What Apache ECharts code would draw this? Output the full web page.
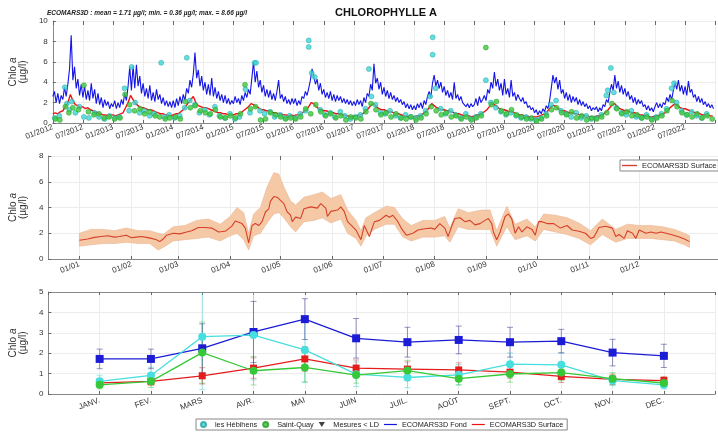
<!DOCTYPE html>
<html lang="fr">
<head>
<meta charset="UTF-8" />
<title>Chlorophylle a</title>
<script src="https://cdn.jsdelivr.net/npm/echarts@6/dist/echarts.min.js"></script>
<style>
  html, body { margin: 0; padding: 0; background: #fff; }
  #chart { width: 718px; height: 432px; }
</style>
</head>
<body>
<div id="chart"></div>
<script>
// ---- top panel : time series 2012-2022 (x = months since 01/2012) ----
const topTickLabels = ['01/2012','07/2012','01/2013','07/2013','01/2014','07/2014','01/2015','07/2015',
  '01/2016','07/2016','01/2017','07/2017','01/2018','07/2018','01/2019','07/2019','01/2020','07/2020',
  '01/2021','07/2021','01/2022','07/2022'];

// ECOMARS3D Fond, 3 values per month (1st, 11th, 21st)
const fondValues = [
  2.6,3.1,2.0, 2.9,1.9,2.7, 2.3,3.5,2.6, 3.8,5.3,8.6, 4.2,5.5,3.4, 4.3,2.7,3.8, 2.5,3.6,2.3, 3.2,2.2,3.9, 2.4,3.3,1.9, 2.9,1.8,2.5, 1.5,2.3,1.7, 2.1,1.4,1.9,
  1.6,2.2,1.4, 2.0,1.5,2.3, 1.8,2.9,2.2, 3.6,5.5,3.2, 5.6,3.4,5.7, 3.6,4.6,2.9, 3.9,2.6,3.4, 2.4,3.7,2.2, 3.0,2.1,3.3, 2.3,2.8,1.9, 2.5,1.7,2.2, 1.6,2.1,1.5,
  2.2,1.5,2.4, 1.7,2.6,1.9, 2.8,2.2,3.4, 2.9,4.2,3.5, 4.8,6.9,4.4, 5.2,3.6,4.6, 3.2,4.0,2.8, 3.8,2.7,4.4, 2.6,3.5,2.4, 3.1,2.2,2.8, 2.0,2.7,1.9, 2.4,1.8,2.2,
  1.9,2.6,2.0, 2.4,1.8,2.7, 2.2,3.0,2.5, 3.3,2.8,4.4, 6.0,4.0,5.1, 3.5,4.2,3.0, 3.7,2.6,3.3, 2.5,3.2,2.3, 2.9,2.2,3.1, 4.2,2.4,2.8, 2.1,2.6,1.9, 2.3,1.8,2.4,
  1.9,2.4,1.7, 2.2,1.8,2.6, 2.4,3.1,2.7, 3.4,4.2,5.3, 4.6,3.8,4.3, 3.2,3.9,2.8, 3.3,2.5,3.0, 2.4,3.1,2.2, 2.8,2.1,2.7, 2.2,2.6,2.0, 2.4,1.9,2.3, 1.8,2.2,1.7,
  2.1,1.7,2.3, 1.8,2.2,1.6, 2.5,2.0,2.9, 2.6,3.8,3.2, 5.8,3.9,4.4, 3.3,4.0,2.8, 3.5,2.6,3.2, 2.4,3.0,2.3, 2.7,2.1,2.5, 2.0,2.3,1.8, 2.1,1.5,1.9, 1.4,1.8,1.3,
  1.7,1.3,1.9, 1.5,2.0,1.4, 2.2,1.8,2.6, 3.1,2.5,3.9, 4.7,3.6,4.2, 3.4,4.0,3.0, 3.6,2.7,3.2, 2.5,3.0,2.3, 4.0,2.4,2.8, 2.2,2.6,2.0, 2.1,1.6,1.9, 1.5,1.9,1.6,
  1.8,2.4,1.7, 2.6,2.0,2.3, 2.7,2.2,3.3, 2.9,4.0,3.4, 5.0,3.6,4.3, 3.2,3.9,2.7, 4.3,2.8,3.4, 2.5,4.2,2.6, 3.0,2.2,2.8, 2.4,2.1,2.5, 1.9,2.1,1.5, 1.7,1.3,1.5,
  1.0,1.3,0.8, 1.2,0.9,1.4, 1.1,1.7,1.4, 2.2,3.4,4.7, 3.9,4.5,3.3, 4.2,2.9,3.3, 2.4,3.0,2.2, 2.8,2.0,2.6, 2.1,2.5,1.8, 2.3,1.7,2.1, 1.6,1.9,1.4, 1.7,1.2,1.5,
  1.3,1.6,1.1, 1.5,1.2,1.8, 1.6,2.3,2.0, 3.0,3.8,3.2, 4.7,3.4,4.1, 3.0,3.7,2.8, 3.4,2.6,3.1, 2.3,2.7,2.0, 2.5,1.8,2.3, 1.9,2.2,1.6, 1.8,1.3,1.7, 1.2,1.5,1.1,
  1.6,2.0,1.5, 1.9,1.5,2.0, 1.8,2.5,2.1, 2.8,2.3,3.2, 4.0,3.3,4.2, 3.1,3.7,2.8, 3.6,2.7,4.1, 3.0,3.3,2.5, 2.8,2.1,2.6, 2.0,2.4,1.8, 2.1,1.6,1.9, 1.5,1.8,1.4
];

// ECOMARS3D Surface, 2 values per month
const surfaceValues = [
  0.9,1.0, 0.9,1.1, 1.2,1.6, 2.0,2.8, 2.2,1.8, 1.7,1.5, 1.6,1.4, 1.5,1.3, 1.2,1.1, 1.0,0.9, 0.8,0.8, 0.7,0.8,
  0.8,0.7, 0.8,0.9, 1.0,1.5, 2.0,2.7, 2.3,1.9, 1.7,1.5, 1.5,1.4, 1.3,1.3, 1.2,1.1, 1.0,0.9, 0.9,0.8, 0.8,0.7,
  0.8,0.9, 0.9,1.1, 1.3,1.6, 2.0,2.3, 2.6,2.0, 1.7,1.6, 1.5,1.5, 1.4,1.3, 1.2,1.1, 1.0,1.0, 0.9,0.9, 0.8,0.8,
  0.8,0.9, 0.9,1.0, 1.2,1.4, 1.6,1.9, 1.8,1.6, 1.5,1.3, 1.3,1.2, 1.2,1.1, 1.0,1.0, 0.9,0.9, 0.8,0.8, 0.7,0.8,
  0.7,0.8, 0.8,0.9, 1.1,1.3, 1.6,2.0, 1.9,1.6, 1.4,1.3, 1.2,1.2, 1.1,1.0, 1.0,0.9, 0.9,0.8, 0.8,0.7, 0.7,0.6,
  0.7,0.7, 0.8,0.8, 1.0,1.2, 1.5,1.8, 1.9,1.6, 1.4,1.3, 1.3,1.2, 1.1,1.1, 1.0,0.9, 0.9,0.8, 0.7,0.7, 0.6,0.6,
  0.6,0.7, 0.7,0.8, 1.0,1.2, 1.5,1.9, 1.7,1.5, 1.4,1.3, 1.3,1.2, 1.2,1.1, 1.0,0.9, 0.9,0.8, 0.7,0.7, 0.7,0.6,
  0.7,0.8, 0.8,1.0, 1.1,1.3, 1.6,1.9, 1.8,1.6, 1.4,1.3, 1.3,1.2, 1.1,1.1, 1.0,0.9, 0.8,0.8, 0.7,0.7, 0.6,0.6,
  0.6,0.6, 0.7,0.8, 0.9,1.1, 1.4,1.7, 1.7,1.5, 1.3,1.2, 1.2,1.1, 1.0,1.0, 0.9,0.9, 0.8,0.8, 0.7,0.7, 0.6,0.6,
  0.6,0.7, 0.7,0.8, 1.0,1.2, 1.5,1.8, 1.9,1.6, 1.4,1.3, 1.2,1.2, 1.1,1.0, 1.0,0.9, 0.8,0.8, 0.7,0.7, 0.6,0.6,
  0.7,0.7, 0.8,0.9, 1.0,1.2, 1.5,1.7, 1.9,1.7, 1.5,1.4, 1.4,1.3, 1.2,1.1, 1.0,1.0, 0.9,0.8, 0.8,0.7, 0.7,0.7
];

// field samples [month, µg/l]
const hebihens = [
  [0.4,0.5],[1.3,0.7],[2.4,3.5],[2.8,1.9],[3.3,1.3],[3.8,2.1],[4.5,1.0],[5.3,1.6],[6.2,0.6],[7.2,0.5],[8.3,1.0],[9.2,0.6],[10.3,0.4],[11.3,0.7],
  [12.4,0.5],[13.3,0.6],[14.3,3.4],[15.2,1.2],[15.7,5.5],[16.4,2.0],[17.3,1.0],[18.2,1.2],[19.3,0.7],[20.2,0.9],[21.6,5.9],[22.3,0.6],[23.2,0.8],
  [24.3,0.5],[25.3,0.7],[26.3,1.5],[26.7,6.4],[27.3,2.2],[28.3,1.8],[29.2,1.0],[30.3,1.3],[31.2,0.8],[32.3,1.6],[33.2,0.7],[34.3,0.5],[35.3,0.9],
  [36.3,0.4],[37.2,0.6],[38.4,3.3],[39.3,1.0],[40.2,5.9],[40.5,5.9],[41.3,1.2],[42.2,0.9],[43.3,1.1],[44.2,0.6],[45.3,0.8],[46.3,0.5],[47.2,0.7],
  [48.3,0.5],[49.3,0.9],[50.4,1.2],[51.0,8.1],[51.0,7.45],[51.6,4.9],[52.2,4.5],[53.3,1.3],[54.2,0.8],[55.3,1.0],[56.2,0.6],[57.3,1.1],[58.2,0.7],[59.3,0.4],
  [60.3,0.6],[61.3,0.8],[62.3,1.4],[63.0,5.3],[63.5,2.6],[64.3,1.8],[65.3,1.0],[66.3,0.9],[67.2,1.2],[68.3,0.7],[69.3,0.5],[70.3,0.8],[71.3,0.6],
  [72.3,0.5],[73.3,0.7],[74.3,1.2],[75.2,2.6],[75.7,8.4],[75.7,6.7],[76.3,3.4],[77.3,1.4],[78.3,0.9],[79.3,1.2],[80.3,0.8],[81.3,0.5],[82.3,0.9],[83.3,0.4],
  [84.3,0.6],[85.3,0.9],[86.3,4.2],[87.3,2.0],[88.3,1.5],[89.3,1.1],[90.3,0.8],[91.3,1.0],[92.3,0.7],[93.3,0.5],[94.3,0.6],[95.3,0.4],
  [96.3,0.3],[97.3,0.5],[98.3,0.9],[99.3,1.8],[100.3,2.2],[101.3,1.2],[102.3,0.9],[103.3,0.6],[104.3,1.0],[105.3,0.5],[106.3,0.7],[107.3,0.4],
  [108.3,0.5],[109.3,0.8],[110.3,2.7],[110.6,3.2],[111.2,5.4],[111.8,3.0],[112.3,1.5],[113.3,1.0],[114.3,0.8],[115.3,1.2],[116.3,0.6],[117.3,0.5],[118.3,0.8],[119.3,0.4],
  [120.3,0.6],[121.3,0.9],[122.3,1.4],[123.3,3.4],[123.8,3.9],[124.3,2.0],[125.3,1.2],[126.3,0.8],[127.3,1.1],[128.3,0.7],[129.3,0.5],[130.3,0.9]
];
const saintQuay = [
  [0.5,0.4],[1.4,0.3],[2.5,1.6],[3.2,1.0],[4.0,1.5],[5.1,1.3],[6.2,3.7],[7.1,1.1],[8.2,0.8],[9.2,0.9],[10.2,0.5],[11.2,0.6],
  [12.3,0.4],[13.4,0.5],[14.4,2.8],[15.3,1.8],[16.3,1.2],[17.4,1.4],[18.3,0.9],[19.3,1.1],[20.4,0.7],[21.3,0.6],[22.4,0.4],[23.3,0.5],
  [24.4,0.6],[25.4,0.4],[26.4,2.1],[27.4,1.5],[28.4,1.7],[29.4,1.2],[30.4,1.0],[31.4,0.9],[32.4,1.3],[33.4,0.6],[34.4,0.5],[35.4,0.7],
  [36.4,0.5],[37.4,0.9],[38.3,3.75],[39.4,1.4],[40.4,1.6],[41.4,0.3],[42.4,0.4],[43.4,1.0],[44.4,0.8],[45.4,0.6],[46.4,0.4],[47.4,0.5],
  [48.4,0.4],[49.4,0.6],[50.4,1.4],[51.4,0.9],[52.4,1.8],[53.4,1.1],[54.4,0.7],[55.4,0.9],[56.4,0.5],[57.4,0.7],[58.4,0.3],[59.4,0.6],
  [60.4,0.5],[61.4,0.4],[62.4,1.1],[63.4,1.9],[64.4,1.3],[65.4,0.8],[66.4,1.0],[67.4,0.6],[68.4,0.9],[69.4,0.5],[70.4,0.4],[71.4,0.6],
  [72.4,0.3],[73.4,0.5],[74.4,0.9],[75.4,1.6],[76.4,1.2],[77.4,0.8],[78.4,1.0],[79.4,0.6],[80.4,0.7],[81.4,0.4],[82.4,0.6],[83.4,0.3],
  [84.4,0.5],[85.4,0.7],[86.3,7.4],[87.4,1.8],[88.4,2.1],[89.4,1.2],[90.4,0.9],[91.4,1.3],[92.4,0.8],[93.4,0.6],[94.4,0.4],[95.4,0.5],
  [96.4,0.2],[97.4,0.4],[98.4,0.7],[99.4,1.3],[100.4,1.5],[101.4,1.0],[102.4,0.8],[103.4,1.1],[104.4,0.5],[105.4,0.7],[106.4,0.3],[107.4,0.5],
  [108.4,0.4],[109.4,0.6],[110.4,1.0],[111.4,1.9],[112.4,1.4],[113.4,0.9],[114.4,1.1],[115.4,0.7],[116.4,0.8],[117.4,0.5],[118.4,0.6],[119.4,0.3],
  [120.4,0.5],[121.4,0.7],[122.4,1.2],[123.4,2.2],[124.4,1.6],[125.4,1.0],[126.4,0.8],[127.4,0.6],[128.4,0.9],[129.4,0.5],[130.4,0.7],[131.4,0.4]
];
const belowLD = [];

// ---- middle panel : daily climatology (x = day of year) ----
const monthStarts = [0,31,59,90,120,151,181,212,243,273,304,334];
const climTickLabels = ['01/01','01/02','01/03','01/04','01/05','01/06','01/07','01/08','01/09','01/10','01/11','01/12'];
const climDays = [0,5,9,13,17,21,24,28,31,34,37,40,43,46,48,50,52,56,60,64,67,71,75,79,83,87,91,93,95,97,99,101,103,105,107,109,
  111,113,114,116,118,120,122,124,126,127,129,132,134,138,142,144,147,148,150,154,156,158,160,162,165,168,170,173,176,179,183,185,
  187,190,192,195,199,202,206,210,212,215,218,220,222,224,227,230,233,236,239,242,244,246,247,249,251,254,256,258,260,262,264,267,
  270,272,274,276,279,283,287,291,294,298,302,305,307,310,314,318,320,322,325,327,330,332,334,338,341,344,347,350,353,357,361,364];
const climMean = [1.45,1.55,1.68,1.75,1.8,1.7,1.75,1.85,1.65,1.7,1.75,1.68,1.6,1.5,1.35,1.55,1.85,2.0,1.95,2.1,2.2,2.45,2.45,2.4,2.1,
  2.15,2.55,2.95,2.85,2.75,2.4,1.25,2.6,2.75,2.6,2.9,3.65,3.9,4.5,4.85,4.8,4.55,4.3,3.65,3.4,2.9,3.25,3.15,3.9,4.05,3.95,4.3,3.95,
  3.3,3.7,3.8,4.05,3.7,2.9,2.65,2.25,1.5,2.6,1.75,2.9,3.0,3.4,3.25,3.4,2.9,2.4,1.85,2.0,2.25,2.35,2.4,2.3,2.75,2.4,1.75,2.5,3.15,
  3.2,2.9,3.0,2.65,2.75,3.0,3.15,2.75,2.1,1.5,2.1,3.3,3.5,3.1,2.0,2.5,2.1,2.5,2.3,1.85,2.9,2.9,2.75,2.75,2.4,2.6,2.25,2.15,2.0,
  1.6,1.7,2.45,2.55,2.4,1.75,1.9,1.6,2.2,2.0,1.6,2.25,2.0,2.1,2.0,2.1,2.0,1.9,1.75,1.55,1.35];
const bandDays = [0,7,14,21,28,35,42,47,50,56,63,70,77,84,90,94,98,101,104,108,112,116,119,122,126,129,134,140,145,150,156,160,
  165,168,171,176,183,188,193,198,205,212,218,221,226,232,240,245,249,255,260,267,272,277,284,291,298,305,312,320,327,334,341,348,355,361,364];
const bandLow = [1.0,1.1,1.2,1.2,1.3,1.2,1.2,0.7,0.9,1.4,1.5,1.6,1.7,1.4,1.8,2.0,1.5,0.7,1.8,2.0,2.8,3.5,3.6,3.2,2.5,2.1,2.9,3.0,
  3.2,2.8,3.1,2.0,1.6,1.0,1.8,2.3,2.7,2.7,1.7,1.4,1.7,1.7,1.8,1.3,2.5,2.3,2.3,2.3,1.0,2.5,1.5,1.8,1.4,2.3,2.1,1.9,1.6,1.1,1.9,1.3,
  1.6,1.6,1.6,1.5,1.4,1.1,0.9];
const bandHigh = [2.0,2.3,2.3,2.2,2.4,2.2,2.2,2.0,1.9,2.5,2.6,3.0,3.1,2.7,3.3,4.0,3.6,2.0,3.5,4.0,5.6,6.7,6.6,5.6,4.5,4.2,4.8,5.0,
  5.2,4.7,5.0,3.8,3.0,2.2,3.2,3.6,4.1,4.0,3.1,2.6,3.0,3.0,3.3,2.4,3.9,3.6,3.8,3.8,2.2,4.1,2.7,3.1,2.5,3.5,3.4,3.2,2.8,2.2,3.1,2.3,
  2.7,2.6,2.6,2.5,2.3,2.0,1.8];

// ---- bottom panel : monthly means and standard deviations ----
const monthNames = ['JANV.','FEV.','MARS','AVR.','MAI','JUIN','JUIL.','AOÛT','SEPT.','OCT.','NOV.','DEC.'];
const hebMonthly = [0.62,0.91,2.81,2.89,2.16,0.97,0.81,0.94,1.46,1.43,0.66,0.45];
const hebStd = [0.3,0.4,2.6,2.2,1.6,0.6,0.5,0.5,0.55,0.6,0.25,0.2];
const sqMonthly = [0.45,0.62,2.03,1.14,1.3,0.93,1.15,0.75,0.98,1.05,0.75,0.54];
const sqStd = [0.2,0.3,1.5,0.7,0.7,0.4,0.5,0.3,0.4,0.4,0.3,0.2];
const fondMonthly = [1.72,1.72,2.24,3.04,3.67,2.73,2.54,2.65,2.54,2.59,2.03,1.87];
const fondStd = [0.48,0.48,1.2,1.5,1.0,0.97,0.73,0.68,0.73,0.58,0.65,0.57];
const surfMonthly = [0.55,0.62,0.89,1.27,1.72,1.27,1.22,1.18,1.07,0.86,0.72,0.66];
const surfStd = [0.2,0.2,0.4,0.5,0.6,0.4,0.35,0.35,0.3,0.3,0.25,0.2];

const FONT = 'Liberation Sans';
const gridColor = '#ececec';
const LINE_ICON = 'path://M0,0L22,0L22,2L0,2Z';
const chart = echarts.init(document.getElementById('chart'), null, { renderer: 'canvas' });

function yName() {
  return {
    name: '{n|Chlo }{i|a}\n{n|(µg/l)}',
    nameLocation: 'middle',
    nameRotate: 90,
    nameGap: 14,
    nameTextStyle: {
      rich: {
        n: { fontFamily: FONT, fontSize: 10, color: '#333', lineHeight: 10 },
        i: { fontFamily: FONT, fontSize: 10, color: '#333', fontStyle: 'italic', lineHeight: 10 }
      }
    }
  };
}

function yAxis(gridIndex, max, interval) {
  return Object.assign({
    type: 'value', gridIndex: gridIndex, min: 0, max: max, interval: interval,
    axisLine: { show: true, onZero: false, lineStyle: { color: '#888' } },
    axisTick: { show: true, inside: true, length: 3, lineStyle: { color: '#666' } },
    axisLabel: { fontFamily: FONT, fontSize: 8, color: '#333', margin: 5 },
    splitLine: { show: true, lineStyle: { color: gridColor } }
  }, yName());
}

function errorBars(means, errs, color, yMax) {
  return {
    type: 'custom', xAxisIndex: 2, yAxisIndex: 2, silent: true, z: 2,
    data: means.map((m, i) => [i + 1, m - errs[i], m + errs[i]]),
    renderItem: function (params, api) {
      const x = api.value(0);
      const lowV = Math.max(0, api.value(1));
      const highV = api.value(2);
      const lo = api.coord([x, lowV]);
      const hi = api.coord([x, Math.min(yMax, highV)]);
      const w = 3;
      const style = { stroke: color, lineWidth: 1 };
      const kids = [
        { type: 'line', shape: { x1: lo[0], y1: lo[1], x2: hi[0], y2: hi[1] }, style: style },
        { type: 'line', shape: { x1: lo[0] - w, y1: lo[1], x2: lo[0] + w, y2: lo[1] }, style: style }
      ];
      if (highV <= yMax) {
        kids.push({ type: 'line', shape: { x1: hi[0] - w, y1: hi[1], x2: hi[0] + w, y2: hi[1] }, style: style });
      }
      return { type: 'group', children: kids };
    }
  };
}

// bottom-panel lines carry no series name so the legend icons come from the top panel
function monthlyLine(values, color, symbol, size) {
  return {
    type: 'line', xAxisIndex: 2, yAxisIndex: 2, z: 3,
    data: values.map((v, i) => [i + 1, v]),
    symbol: symbol, symbolSize: size, showSymbol: true,
    lineStyle: { color: color, width: 1.3 },
    itemStyle: { color: color }
  };
}

const option = {
  animation: false,
  backgroundColor: '#fff',
  textStyle: { fontFamily: FONT },
  title: [
    { text: 'CHLOROPHYLLE A', left: 330, top: 2,
      textStyle: { fontFamily: FONT, fontSize: 11, fontWeight: 'bold', color: '#111' } },
    { text: 'ECOMARS3D : mean = 1.71 µg/l; min. = 0.36 µg/l; max. = 8.66 µg/l', left: 42, top: 5,
      textStyle: { fontFamily: FONT, fontSize: 6.5, fontWeight: 'bold', fontStyle: 'italic', color: '#222' } }
  ],
  legend: [
    {
      left: 196, top: 419, orient: 'horizontal',
      itemWidth: 13, itemHeight: 5, itemGap: 5,
      padding: [2, 4], borderColor: '#888', borderWidth: 1, backgroundColor: '#fff',
      textStyle: { fontFamily: FONT, fontSize: 7.3, color: '#222' },
      data: [
        { name: 'les Hébihens', icon: 'circle' },
        { name: 'Saint-Quay', icon: 'circle' },
        { name: 'Mesures < LD', icon: 'path://M0,0L10,0L5,8Z', itemStyle: { color: '#111' } },
        { name: 'ECOMARS3D Fond', icon: LINE_ICON, itemStyle: { color: '#1414e6' } },
        { name: 'ECOMARS3D Surface', icon: LINE_ICON, itemStyle: { color: '#ee1111' } }
      ]
    },
    {
      left: 620, top: 160, orient: 'horizontal',
      itemWidth: 15, itemHeight: 5,
      padding: [2, 2], borderColor: '#888', borderWidth: 1, backgroundColor: '#fff',
      textStyle: { fontFamily: FONT, fontSize: 7.4, color: '#222' },
      data: [{ name: 'ECOMARS3D Surface', icon: LINE_ICON, itemStyle: { color: '#d6402a' } }]
    }
  ],
  grid: [
    { left: 45, top: 21, width: 680, height: 102 },
    { left: 46, top: 156, width: 680, height: 103 },
    { left: 45, top: 292, width: 680, height: 102 }
  ],
  xAxis: [
    { // 0 : top panel
      type: 'value', gridIndex: 0, min: 0, max: 132, interval: 6,
      axisLine: { show: true, onZero: false, lineStyle: { color: '#888' } },
      axisTick: { show: true, inside: true, length: 3, lineStyle: { color: '#666' } },
      axisLabel: { fontFamily: FONT, fontSize: 8, color: '#333', rotate: 20, margin: 4,
        formatter: v => topTickLabels[Math.round(v / 6)] || '' },
      splitLine: { show: true, lineStyle: { color: gridColor } }
    },
    { // 1 : middle panel
      type: 'value', gridIndex: 1, min: -18.5, max: 381,
      axisLine: { show: true, onZero: false, lineStyle: { color: '#888' } },
      axisTick: { show: true, inside: true, length: 3, customValues: monthStarts, lineStyle: { color: '#666' } },
      axisLabel: { fontFamily: FONT, fontSize: 8, color: '#333', rotate: 20, margin: 5, customValues: monthStarts,
        formatter: v => climTickLabels[monthStarts.indexOf(v)] || '' },
      splitLine: { show: true, lineStyle: { color: gridColor } }
    },
    { // 2 : bottom panel
      type: 'value', gridIndex: 2, min: 0, max: 13, interval: 1,
      axisLine: { show: true, onZero: false, lineStyle: { color: '#888' } },
      axisTick: { show: true, inside: true, length: 3, lineStyle: { color: '#666' } },
      axisLabel: { fontFamily: FONT, fontSize: 8, color: '#333', rotate: 20, margin: 6,
        formatter: v => monthNames[v - 1] || '' },
      splitLine: { show: true, lineStyle: { color: gridColor } }
    },
    { // 3 : top ticks, top panel
      type: 'value', gridIndex: 0, position: 'top', min: 0, max: 132, interval: 6,
      axisLine: { show: false, onZero: false }, axisLabel: { show: false }, splitLine: { show: false },
      axisTick: { show: true, inside: true, length: 4, lineStyle: { color: '#666' } }
    },
    { // 4 : top ticks, middle panel
      type: 'value', gridIndex: 1, position: 'top', min: -18.5, max: 381,
      axisLine: { show: false, onZero: false }, axisLabel: { show: false }, splitLine: { show: false },
      axisTick: { show: true, inside: true, length: 4, customValues: monthStarts, lineStyle: { color: '#666' } }
    },
    { // 5 : box top, bottom panel
      type: 'value', gridIndex: 2, position: 'top', min: 0, max: 13, interval: 1,
      axisLine: { show: true, onZero: false, lineStyle: { color: '#888' } }, axisLabel: { show: false }, splitLine: { show: false },
      axisTick: { show: true, inside: true, length: 3, lineStyle: { color: '#666' } }
    }
  ],
  yAxis: [
    yAxis(0, 10, 2),
    yAxis(1, 8, 2),
    yAxis(2, 5, 1)
  ],
  series: [
    {
      type: 'line', name: 'ECOMARS3D Fond', xAxisIndex: 0, yAxisIndex: 0,
      data: fondValues.map((v, i) => [i / 3, v]),
      symbol: 'none', lineStyle: { color: '#1414e6', width: 1.1 }, itemStyle: { color: '#1414e6' }, z: 2
    },
    {
      type: 'line', name: 'ECOMARS3D Surface', xAxisIndex: 0, yAxisIndex: 0,
      data: surfaceValues.map((v, i) => [i / 2, v]),
      symbol: 'none', lineStyle: { color: '#ee1111', width: 1.4 }, itemStyle: { color: '#ee1111' }, z: 3
    },
    {
      type: 'scatter', name: 'les Hébihens', xAxisIndex: 0, yAxisIndex: 0, data: hebihens,
      symbol: 'circle', symbolSize: 5,
      itemStyle: { color: '#3ed6d6', borderColor: '#22a3a3', borderWidth: 0.6 }, z: 4
    },
    {
      type: 'scatter', name: 'Saint-Quay', xAxisIndex: 0, yAxisIndex: 0, data: saintQuay,
      symbol: 'circle', symbolSize: 5,
      itemStyle: { color: '#3cc83c', borderColor: '#249a24', borderWidth: 0.6 }, z: 4
    },
    {
      type: 'scatter', name: 'Mesures < LD', xAxisIndex: 0, yAxisIndex: 0, data: belowLD,
      symbol: 'triangle', symbolRotate: 180, symbolSize: 5, itemStyle: { color: '#111' }
    },
    { // confidence band of the climatology, drawn as one polygon
      type: 'custom', xAxisIndex: 1, yAxisIndex: 1, silent: true, z: 1,
      data: [[0, 0]],
      renderItem: function (params, api) {
        const upper = bandDays.map((d, i) => api.coord([d, bandHigh[i]]));
        const lower = bandDays.map((d, i) => api.coord([d, bandLow[i]])).reverse();
        return {
          type: 'polygon',
          shape: { points: upper.concat(lower) },
          style: { fill: '#f6c9a6', stroke: '#e9b391', lineWidth: 0.6 }
        };
      }
    },
    {
      type: 'line', name: 'ECOMARS3D Surface', xAxisIndex: 1, yAxisIndex: 1,
      data: climDays.map((d, i) => [d, climMean[i]]),
      symbol: 'none', lineStyle: { color: '#d6402a', width: 1.1 }, itemStyle: { color: '#d6402a' }, z: 2
    },
    errorBars(hebMonthly, hebStd, 'rgba(80,215,215,0.55)', 5),
    errorBars(sqMonthly, sqStd, 'rgba(60,190,60,0.45)', 5),
    errorBars(fondMonthly, fondStd, 'rgba(60,60,150,0.55)', 5),
    errorBars(surfMonthly, surfStd, 'rgba(200,50,50,0.45)', 5),
    monthlyLine(surfMonthly, '#e41c1c', 'rect', 7),
    monthlyLine(fondMonthly, '#1c1cd6', 'rect', 8),
    monthlyLine(hebMonthly, '#46dede', 'circle', 8),
    monthlyLine(sqMonthly, '#36c836', 'circle', 8)
  ]
};

chart.setOption(option);
</script>
</body>
</html>
